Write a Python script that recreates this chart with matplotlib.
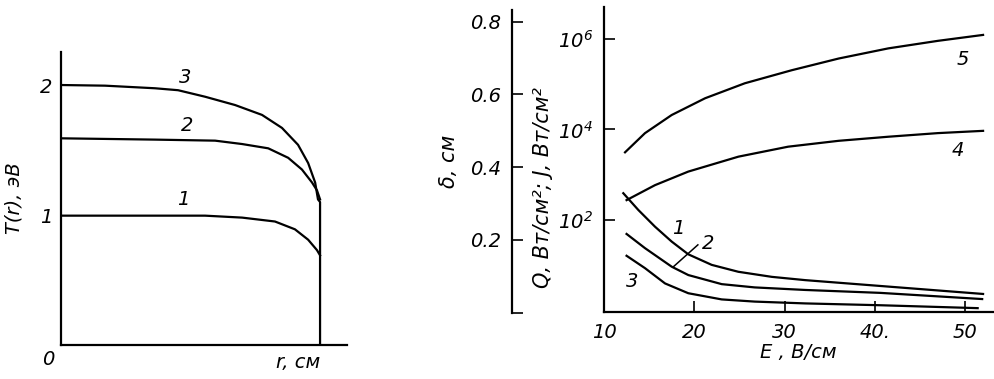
import matplotlib
matplotlib.use("Agg")
import matplotlib.pyplot as plt
from matplotlib.ticker import NullLocator

plt.rcParams["font.family"] = ["DejaVu Sans"]
plt.rcParams["font.style"] = "italic"
plt.rcParams["mathtext.default"] = "it"

# ── left panel: T(r) profiles ────────────────────────────────────────────────
r3 = [0.0, 0.17, 0.363, 0.452, 0.556, 0.672, 0.776, 0.853, 0.915, 0.954,
      0.981, 0.992, 1.0, 1.0]
t3 = [2.0, 1.995, 1.975, 1.96, 1.91, 1.846, 1.77, 1.67, 1.54, 1.40,
      1.25, 1.12, 1.10, 0.0]
r2 = [0.0, 0.363, 0.595, 0.699, 0.80, 0.877, 0.93, 0.969, 0.988, 1.0]
t2 = [1.59, 1.58, 1.572, 1.546, 1.513, 1.44, 1.35, 1.25, 1.19, 1.12]
r1 = [0.0, 0.556, 0.699, 0.826, 0.903, 0.954, 0.988, 1.0]
t1 = [0.995, 0.995, 0.98, 0.95, 0.89, 0.81, 0.73, 0.69]

# ── right panel: delta(E) curves 1-3, Q/J(E) curves 4-5 ──────────────────────
e_d1 = [12.14, 13.8, 15.65, 17.5, 19.34, 21.93, 24.88, 28.6, 32.3, 40.6, 52.0]
d1 = [0.328, 0.282, 0.236, 0.195, 0.160, 0.131, 0.112, 0.098, 0.089, 0.073, 0.051]
e_d2 = [12.5, 14.54, 17.5, 19.34, 23.04, 26.7, 32.3, 40.6, 51.9]
d2 = [0.216, 0.177, 0.126, 0.103, 0.078, 0.069, 0.062, 0.054, 0.037]
e_d3 = [12.5, 14.54, 16.76, 19.34, 23.04, 26.7, 32.3, 40.6, 51.4]
d3 = [0.156, 0.122, 0.080, 0.053, 0.036, 0.030, 0.025, 0.020, 0.012]

e_q5 = [12.33, 14.54, 17.5, 21.2, 25.6, 30.8, 36.0, 41.5, 47.0, 52.0]
q5 = [3.13e3, 8.3e3, 2.09e4, 4.9e4, 1.05e5, 2.04e5, 3.7e5, 6.2e5, 9.1e5, 1.23e6]
e_q4 = [12.5, 15.65, 19.34, 24.9, 30.4, 36.0, 41.5, 47.0, 52.0]
q4 = [275, 589, 1175, 2512, 4169, 5623, 6918, 8318, 9333]

e_ticks = [10, 20, 30, 40, 50]
e_ticklabels = ["10", "20", "30", "40.", "50"]
d_ticks = [0.0, 0.2, 0.4, 0.6, 0.8]
d_ticklabels = ["", "0.2", "0.4", "0.6", "0.8"]
q_ticks = [1e2, 1e4, 1e6]
q_ticklabels = ["$10^{2}$", "$10^{4}$", "$10^{6}$"]

W, H = 994, 379
fig = plt.figure(figsize=(W / 100, H / 100), dpi=100)


def box(x0, y0, x1, y1):
    """pixel box (top-left origin) -> figure fraction rect"""
    return [x0 / W, 1 - y1 / H, (x1 - x0) / W, (y1 - y0) / H]


LW = 1.6
FS = 14

# left
ax = fig.add_axes(box(61, 52, 347, 345))
ax.plot(r3, t3, color="black", lw=LW)
ax.plot(r2, t2, color="black", lw=LW)
ax.plot(r1, t1, color="black", lw=LW)
ax.set_xlim(0, 1.104)
ax.set_ylim(0, 2.254)
for s in ["top", "right"]:
    ax.spines[s].set_visible(False)
for s in ["left", "bottom"]:
    ax.spines[s].set_linewidth(LW)
ax.set_xticks([])
ax.set_yticks([1, 2])
ax.set_yticklabels(["1", "2"], fontsize=FS)
ax.tick_params(axis="y", length=0, pad=6)
ax.text(0.48, 2.06, "3", fontsize=FS, ha="center", va="center")
ax.text(0.486, 1.69, "2", fontsize=FS, ha="center", va="center")
ax.text(0.47, 1.12, "1", fontsize=FS, ha="center", va="center")
ax.text(-0.045, -0.05, "0", transform=ax.transAxes, fontsize=FS,
        ha="center", va="center")
ax.text(0.83, -0.06, "r, см", transform=ax.transAxes, fontsize=FS,
        ha="center", va="center")
ax.set_ylabel("T(r), эВ", fontsize=FS, labelpad=12)

# right: log axis
ax2 = fig.add_axes(box(604, 7, 993, 312))
ax2.set_yscale("log")
ax2.plot(e_q5, q5, color="black", lw=LW)
ax2.plot(e_q4, q4, color="black", lw=LW)
ax2.set_xlim(10, 53.1)
ax2.set_ylim(0.927, 5.09e6)
for s in ["top", "right"]:
    ax2.spines[s].set_visible(False)
for s in ["left", "bottom"]:
    ax2.spines[s].set_linewidth(LW)
ax2.set_xticks(e_ticks)
ax2.set_xticklabels(e_ticklabels, fontsize=FS)
ax2.set_yticks(q_ticks)
ax2.set_yticklabels(q_ticklabels, fontsize=FS)
ax2.yaxis.set_minor_locator(NullLocator())
ax2.tick_params(direction="in", length=8, width=1.2, pad=8)
ax2.text(49.2, 3.5e3, "4", fontsize=FS, ha="center", va="center")
ax2.text(49.7, 3.5e5, "5", fontsize=FS, ha="center", va="center")
ax2.set_xlabel("E , В/см", fontsize=FS, labelpad=1)

# delta curves share the E axis
tw = ax2.twinx()
tw.set_ylim(0.0014, 0.840)
tw.plot(e_d1, d1, color="black", lw=LW)
tw.plot(e_d2, d2, color="black", lw=LW)
tw.plot(e_d3, d3, color="black", lw=LW)
tw.axis("off")
tw.text(18.2, 0.231, "1", fontsize=FS, ha="center", va="center")
tw.text(21.5, 0.191, "2", fontsize=FS, ha="center", va="center")
tw.text(13.1, 0.084, "3", fontsize=FS, ha="center", va="center")
tw.plot([17.65, 20.4], [0.125, 0.186], color="black", lw=1.1)

# separate delta scale
ax3 = fig.add_axes(box(512, 10, 540, 312.5))
ax3.set_ylim(0, 0.832)
ax3.set_xticks([])
for s in ["top", "right", "bottom"]:
    ax3.spines[s].set_visible(False)
ax3.spines["left"].set_linewidth(LW)
ax3.patch.set_visible(False)
ax3.set_yticks(d_ticks)
ax3.set_yticklabels(d_ticklabels, fontsize=FS)
ax3.tick_params(axis="y", direction="in", length=8, width=1.2, pad=8)
ax3.set_ylabel("δ, см", fontsize=FS + 1, labelpad=8)

fig.text(543 / W, 1 - 188 / H, "Q, Вт/см²; J, Вт/см²", rotation=90,
         fontsize=15, ha="center", va="center")

fig.savefig("out.png", dpi=100)
